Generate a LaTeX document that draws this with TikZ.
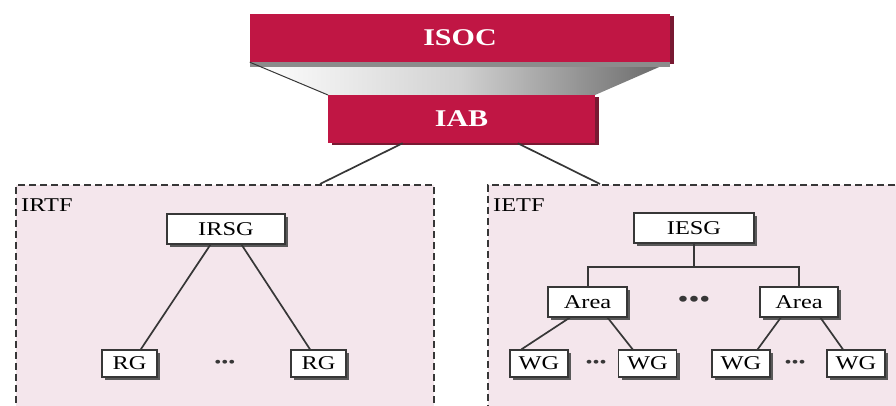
\documentclass[tikz,border=0pt]{standalone}
\usepackage{fontspec}
\setmainfont{Liberation Serif}[FakeStretch=1.25]
\usetikzlibrary{shadows,calc}
\definecolor{crim}{RGB}{192,22,68}
\definecolor{crimdark}{RGB}{120,25,50}
\definecolor{pinkbg}{RGB}{244,230,236}
\definecolor{edge}{RGB}{55,55,55}
\tikzset{
  redbox/.style={rectangle, fill=crim, text=white, font=\fontsize{24}{26}\selectfont\bfseries,
    drop shadow={shadow xshift=4pt, shadow yshift=-2pt, fill=crimdark, opacity=1}},
  group/.style={rectangle, draw=edge, fill=pinkbg, line width=1.6pt, dash pattern=on 7pt off 4pt},
  wbox/.style={rectangle, draw=edge, fill=white, line width=1.1pt, inner sep=0pt,
    font=\fontsize{19.5}{21}\selectfont,
    drop shadow={shadow xshift=3pt, shadow yshift=-3pt, fill=black!65, opacity=1}},
  conn/.style={draw=edge, line width=1.7pt},
  dots/.style={font=\fontsize{16}{18}\selectfont, text=edge, inner sep=0pt},
  bigdots/.style={font=\fontsize{25}{27}\selectfont, text=edge, inner sep=0pt},
  lbl/.style={font=\fontsize{19.5}{21}\selectfont, anchor=north west, inner sep=0pt}
}
\begin{document}
\begin{tikzpicture}[x=1pt,y=-1pt]
\useasboundingbox (0,0) rectangle (896,405);
% groups
\node[group, minimum width=418pt, minimum height=240pt, anchor=north west] (irtf) at (15,184) {};
\node[group, minimum width=430pt, minimum height=240pt, anchor=north west] (ietf) at (487,184) {};
\node[lbl] (irtfl) at (21,199) {IRTF};
\node[lbl] (ietfl) at (493,199) {IETF};
% top blocks
\node[redbox, minimum width=420pt, minimum height=48pt] (isoc) at (460,38) {ISOC};
\shade[left color=white, right color=black!60, middle color=black!18]
  (isoc.south west) -- (isoc.south east) -- (595,95) -- (328,95) -- cycle;
\fill[black!45] (isoc.south west) rectangle ($(isoc.south east)+(0,5)$);
\draw[edge, line width=1pt] (isoc.south west) -- (328,95);
\node[redbox, minimum width=267pt, minimum height=48pt] (iab) at (461.5,119) {IAB};
\coordinate (a1) at (320,184);
\coordinate (a2) at (600,184);
\draw[conn] ($(iab.south west)!0.28!(iab.south east)$) -- (a1);
\draw[conn] ($(iab.south west)!0.71!(iab.south east)$) -- (a2);
% IRTF tree
\node[wbox, minimum width=118pt, minimum height=30pt] (irsg) at (226,229) {IRSG};
\node[wbox, minimum width=55pt, minimum height=27pt] (rg1) at (129.5,363.5) {RG};
\node[wbox, minimum width=55pt, minimum height=27pt] (rg2) at (318.5,363.5) {RG};
\node[dots] (rgd) at (225,364) {•••};
\draw[conn] ($(irsg.south west)!0.37!(irsg.south east)$) -- ($(rg1.north west)!0.7!(rg1.north east)$);
\draw[conn] ($(irsg.south west)!0.63!(irsg.south east)$) -- ($(rg2.north west)!0.35!(rg2.north east)$);
% IETF tree
\node[wbox, minimum width=120pt, minimum height=30pt] (iesg) at (694,228) {IESG};
\node[wbox, minimum width=79pt, minimum height=30pt] (area1) at (587.5,302) {Area};
\node[wbox, minimum width=78pt, minimum height=30pt] (area2) at (799,302) {Area};
\node[bigdots] (ad) at (694,302) {•••};
\coordinate (jn) at ($(iesg.south)+(0,23.5)$);
\draw[conn] (iesg.south) -- (jn);
\draw[conn, line width=2pt] (area1.north) |- (jn) -| (area2.north);
\node[wbox, minimum width=58pt, minimum height=27pt] (wg1) at (539,363.5) {WG};
\node[wbox, minimum width=58pt, minimum height=27pt] (wg2) at (647.5,363.5) {WG};
\node[wbox, minimum width=58pt, minimum height=27pt] (wg3) at (741,363.5) {WG};
\node[wbox, minimum width=58pt, minimum height=27pt] (wg4) at (856,363.5) {WG};
\node[dots] (wd1) at (596,364) {•••};
\node[dots] (wd2) at (795,364) {•••};
\draw[conn] ($(area1.south west)!0.28!(area1.south east)$) -- ($(wg1.north west)!0.2!(wg1.north east)$);
\draw[conn] ($(area1.south west)!0.75!(area1.south east)$) -- ($(wg2.north west)!0.25!(wg2.north east)$);
\draw[conn] ($(area2.south west)!0.27!(area2.south east)$) -- ($(wg3.north west)!0.78!(wg3.north east)$);
\draw[conn] ($(area2.south west)!0.77!(area2.south east)$) -- ($(wg4.north west)!0.28!(wg4.north east)$);
\end{tikzpicture}
\end{document}
